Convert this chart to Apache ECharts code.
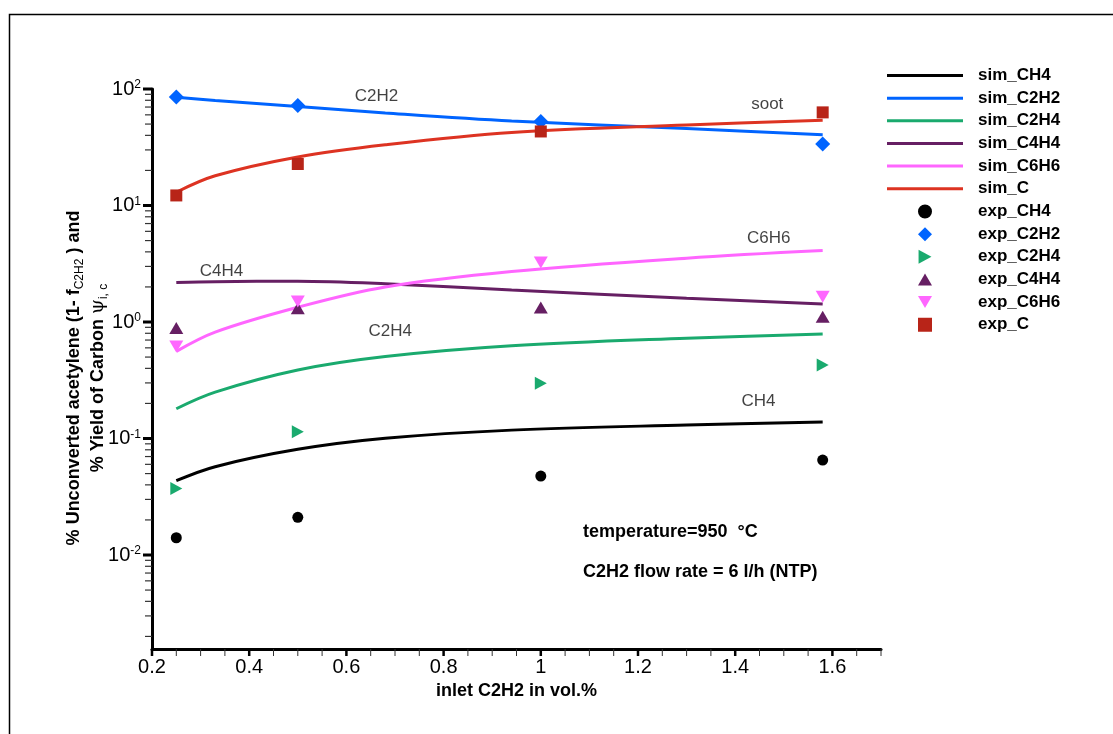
<!DOCTYPE html>
<html><head><meta charset="utf-8">
<script src="https://cdn.jsdelivr.net/npm/echarts@6/dist/echarts.min.js"></script>
<style>html,body{margin:0;padding:0;background:#fff}#c{width:1113px;height:734px}</style>
</head><body><div id="c"></div>
<script>
// ---- data ----
const simX    = [0.25, 0.33, 0.5, 0.68, 0.94, 1.3, 1.58];
const simCH4  = [0.0434, 0.0573, 0.0807, 0.1004, 0.118, 0.1306, 0.1387];
const simC2H2 = [85, 79.8, 70.9, 62.2, 53, 45.7, 40.5];
const simC2H4 = [0.18, 0.25, 0.387, 0.505, 0.625, 0.726, 0.79];
const simC4H4 = [2.18, 2.22, 2.24, 2.13, 1.88, 1.60, 1.43];
const simC6H6 = [0.56, 0.82, 1.34, 2.0, 2.71, 3.53, 4.1];
const simC    = [13.0, 18.0, 26.1, 33.2, 42.4, 49.1, 53.8];

const expX    = [0.25, 0.5, 1.0, 1.58];
const expCH4  = [0.01406, 0.02104, 0.0476, 0.0653];
const expC2H2 = [85.4, 72.3, 52.7, 33.7];
const expC2H4 = [0.0373, 0.1145, 0.298, 0.428];
const expC4H4 = [0.89, 1.31, 1.33, 1.11];
const expC6H6 = [0.615, 1.50, 3.24, 1.65];
const expC    = [12.2, 22.7, 43.2, 63.0];

const annotText = ['C2H2', 'soot', 'C6H6', 'C4H4', 'C2H4', 'CH4'];
const annotX    = [0.662, 1.466, 1.469, 0.343, 0.69, 1.448];
const annotY    = [86.4, 73.3, 5.25, 2.71, 0.827, 0.207];

const xMajorTicks = [0.2, 0.4, 0.6, 0.8, 1.0, 1.2, 1.4, 1.6];
const xMinorTicks = [0.25,0.3,0.35,0.45,0.5,0.55,0.65,0.7,0.75,0.85,0.9,0.95,1.05,1.1,1.15,1.25,1.3,1.35,1.45,1.5,1.55,1.65,1.7];
const yMajorTicks = [0.01, 0.1, 1, 10, 100];

const X_MIN = 0.2, X_MAX = 1.7, Y_MIN = 0.00156, Y_MAX = 100;
const yMinorTicks = [];
for (let k = -3; k <= 1; k++) for (let m = 2; m <= 9; m++) {
  const v = m * Math.pow(10, k);
  if (v >= Y_MIN && v <= Y_MAX) yMinorTicks.push(v);
}

const FONT = '"Liberation Sans", Arial, Helvetica, sans-serif';
const C = {CH4:'#000000', C2H2:'#0064FF', C2H4:'#1AAA6E', C4H4:'#661F63', C6H6:'#FF66FF', C:'#DD3322', expC:'#B82418'};

function pairs(xs, ys) { return xs.map((x, i) => [x, ys[i]]); }

function simSeries(name, ys, color) {
  return {name, type:'line', data:pairs(simX, ys), smooth:0.35, symbol:'none',
    color, lineStyle:{color, width:3}, itemStyle:{color, opacity:1}, z:4};
}
function expSeries(name, ys, color, symbol, size, rotate) {
  return {name, type:'scatter', data:pairs(expX, ys), symbol, symbolSize:size,
    symbolRotate:rotate || 0, color, itemStyle:{color, opacity:1}, z:5};
}
function tickRenderer(dir, len, width, color) {
  return function (params, api) {
    const p = api.coord([api.value(0), api.value(1)]);
    const shape = dir === 'x'
      ? {x1:p[0], y1:p[1], x2:p[0], y2:p[1] + len}
      : {x1:p[0], y1:p[1], x2:p[0] - len, y2:p[1]};
    return {type:'line', shape, style:{stroke:color, lineWidth:width}};
  };
}
function tickSeries(dir, vals, len, width, color) {
  return {type:'custom', silent:true, clip:false, z:6,
    data: vals.map(v => dir === 'x' ? [v, Y_MIN] : [X_MIN, v]),
    renderItem: tickRenderer(dir, len, width, color)};
}

const LINE_ICON = 'path://M0,0H76V3H0Z';
const LEGEND_TEXT = {color:'#000', fontSize:17, fontWeight:'bold', fontFamily:FONT};

const chart = echarts.init(document.getElementById('c'), null, {renderer:'canvas'});
chart.setOption({
  backgroundColor:'#ffffff',
  animation:false,
  grid:{left:152, right:232, top:89, bottom:85, containLabel:false},
  xAxis:{
    type:'value', min:X_MIN, max:X_MAX, interval:0.2,
    axisLine:{lineStyle:{color:'#000', width:3}},
    axisTick:{show:false}, splitLine:{show:false},
    axisLabel:{color:'#000', fontSize:20, fontFamily:FONT, margin:8, showMaxLabel:false},
    name:'inlet C2H2 in vol.%', nameLocation:'middle', nameGap:33, nameMoveOverlap:false,
    nameTextStyle:{color:'#000', fontSize:18, fontWeight:'bold', fontFamily:FONT}
  },
  yAxis:{
    type:'log', logBase:10, min:Y_MIN, max:Y_MAX,
    axisLine:{lineStyle:{color:'#000', width:3}},
    axisTick:{show:false}, splitLine:{show:false}, minorTick:{show:false},
    axisLabel:{color:'#000', margin:11, fontFamily:FONT,
      formatter:function (v) {
        const l = Math.log10(v), e = Math.round(l);
        if (Math.abs(l - e) > 1e-6) return '';
        return '{b|10}{sup|' + e + '}';
      },
      rich:{b:{fontSize:20, fontFamily:FONT, color:'#000'},
            sup:{fontSize:12, fontFamily:FONT, color:'#000', verticalAlign:'top'}}
    },
    name:'{t|% Unconverted acetylene (1- f}{s|C2H2}{t| ) and}\n{t|% Yield of Carbon }{g|ψ}{s|i, c}',
    nameLocation:'middle', nameRotate:90, nameGap:42, nameMoveOverlap:false,
    nameTextStyle:{color:'#000', lineHeight:24, padding:[0,18,0,0],
      rich:{t:{fontSize:18, fontWeight:'bold', fontFamily:FONT, color:'#000', lineHeight:24},
            s:{fontSize:12, fontFamily:FONT, color:'#000', verticalAlign:'bottom', lineHeight:24},
            g:{fontSize:19, fontFamily:'"DejaVu Serif", serif', color:'#000', lineHeight:24}}}
  },
  legend:[
    {
      orient:'vertical', left:882, top:62, itemWidth:76, itemHeight:14, itemGap:5.65,
      selectedMode:false, itemStyle:{borderWidth:0},
      textStyle:Object.assign({padding:[0,0,0,10]}, LEGEND_TEXT),
      data:[
        {name:'sim_CH4', icon:LINE_ICON}, {name:'sim_C2H2', icon:LINE_ICON},
        {name:'sim_C2H4', icon:LINE_ICON}, {name:'sim_C4H4', icon:LINE_ICON},
        {name:'sim_C6H6', icon:LINE_ICON}, {name:'sim_C', icon:LINE_ICON}
      ]
    },
    {
      orient:'vertical', left:913, top:198, itemWidth:14, itemHeight:14, itemGap:5.65,
      selectedMode:false, itemStyle:{borderWidth:0},
      textStyle:Object.assign({padding:[0,0,0,41]}, LEGEND_TEXT),
      data:[
        {name:'exp_CH4', icon:'path://M6,0A6,6,0,1,1,5.99,0Z'},
        {name:'exp_C2H2', icon:'path://M8,0L16,8L8,16L0,8Z'},
        {name:'exp_C2H4', icon:'path://M0,0L12,6.5L0,13Z'},
        {name:'exp_C4H4', icon:'path://M7,0L14,12L0,12Z'},
        {name:'exp_C6H6', icon:'path://M0,0L14,0L7,12Z'},
        {name:'exp_C', icon:'path://M0,0H12V12H0Z'}
      ]
    }
  ],
  graphic:[
    {type:'rect', left:7, top:12, z:-10, silent:true,
      shape:{width:1200, height:800}, style:{fill:'none', stroke:'#000', lineWidth:1.5}},
    {type:'text', left:583, top:523, style:{text:'temperature=950  °C', fill:'#000',
      font:'bold 18px ' + FONT}},
    {type:'text', left:583, top:563, style:{text:'C2H2 flow rate = 6 l/h (NTP)', fill:'#000',
      font:'bold 18px ' + FONT}}
  ],
  series:[
    simSeries('sim_CH4', simCH4, C.CH4),
    simSeries('sim_C2H2', simC2H2, C.C2H2),
    simSeries('sim_C2H4', simC2H4, C.C2H4),
    simSeries('sim_C4H4', simC4H4, C.C4H4),
    simSeries('sim_C6H6', simC6H6, C.C6H6),
    simSeries('sim_C', simC, C.C),
    expSeries('exp_CH4', expCH4, C.CH4, 'circle', 11),
    expSeries('exp_C2H2', expC2H2, C.C2H2, 'diamond', 15),
    expSeries('exp_C2H4', expC2H4, C.C2H4, 'triangle', [13, 12], -90),
    expSeries('exp_C4H4', expC4H4, C.C4H4, 'triangle', [14, 12]),
    expSeries('exp_C6H6', expC6H6, C.C6H6, 'triangle', [14, 12], 180),
    expSeries('exp_C', expC, C.expC, 'rect', 12),
    {name:'annotations', type:'scatter', symbolSize:0, silent:true, z:7,
      data: annotText.map((t, i) => ({name:t, value:[annotX[i], annotY[i]]})),
      label:{show:true, position:'inside', formatter:'{b}', color:'#111', fontSize:17, fontFamily:FONT}},
    tickSeries('x', xMajorTicks, 7, 2.5, '#000'),
    tickSeries('x', xMinorTicks, 7, 1, '#333'),
    tickSeries('y', yMajorTicks, 9, 3, '#000'),
    tickSeries('y', yMinorTicks, 7, 1.2, '#333')
  ]
});
</script></body></html>
